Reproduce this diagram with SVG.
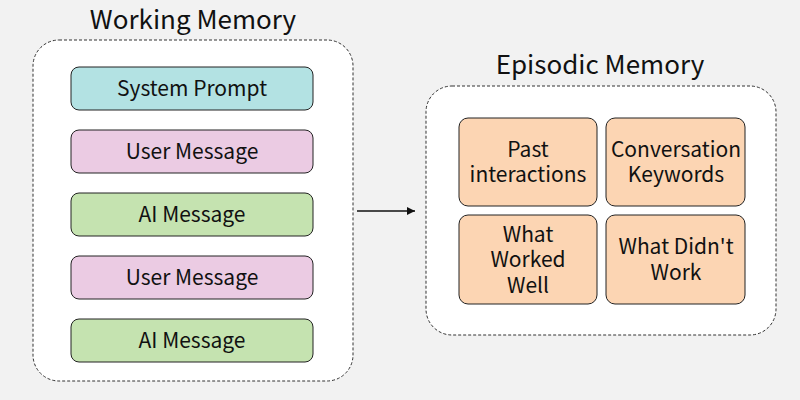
<svg xmlns="http://www.w3.org/2000/svg" width="800" height="400" viewBox="0 0 800 400">
<style>
text{font-family:"Noto Sans CJK SC","Noto Sans",sans-serif;fill:#111;text-anchor:middle}
.t{font-size:26px}
.b{font-size:21px}
.c{fill:#fff;stroke:#333;stroke-width:1;stroke-dasharray:3,2}
.n{stroke:#222;stroke-width:1}
.sys{fill:#b3e2e3}.usr{fill:#ebcbe3}.ai{fill:#c5e3b0}.ep{fill:#fcd5b3}
</style>
<defs><marker id="ah" markerWidth="10" markerHeight="10" refX="9" refY="5" orient="auto" markerUnits="userSpaceOnUse"><path d="M1,1 L9,5 L1,9 z" fill="#111"/></marker></defs>
<rect width="800" height="400" fill="#f2f2f2"/>
<g id="working">
<rect class="c" x="33" y="40" width="320" height="341" rx="26"/>
<text class="t" x="193" y="29">Working Memory</text>
</g>
<g id="n1"><rect class="n sys" x="71" y="67" width="242" height="43" rx="8"/><text class="b" x="192" y="96">System Prompt</text></g>
<g id="n2"><rect class="n usr" x="71" y="130" width="242" height="43" rx="8"/><text class="b" x="192" y="159">User Message</text></g>
<g id="n3"><rect class="n ai" x="71" y="193" width="242" height="43" rx="8"/><text class="b" x="192" y="222">AI Message</text></g>
<g id="n4"><rect class="n usr" x="71" y="256" width="242" height="43" rx="8"/><text class="b" x="192" y="285">User Message</text></g>
<g id="n5"><rect class="n ai" x="71" y="319" width="242" height="43" rx="8"/><text class="b" x="192" y="348">AI Message</text></g>
<g id="episodic">
<rect class="c" x="426" y="86" width="350" height="249" rx="26"/>
<text class="t" x="600" y="74">Episodic Memory</text>
</g>
<g id="e1"><rect class="n ep" x="459" y="118" width="138" height="88" rx="9"/><text class="b" x="528" y="157">Past</text><text class="b" x="528" y="182">interactions</text></g>
<g id="e2"><rect class="n ep" x="606" y="118" width="139" height="88" rx="9"/><text class="b" x="676" y="157">Conversation</text><text class="b" x="676" y="182">Keywords</text></g>
<g id="e3"><rect class="n ep" x="459" y="215" width="138" height="89" rx="9"/><text class="b" x="528" y="242">What</text><text class="b" x="528" y="267">Worked</text><text class="b" x="528" y="293">Well</text></g>
<g id="e4"><rect class="n ep" x="606" y="215" width="139" height="89" rx="9"/><text class="b" x="676" y="254">What Didn't</text><text class="b" x="676" y="280">Work</text></g>
<g id="connectors"><line x1="357" y1="211" x2="415" y2="211" stroke="#111" stroke-width="1.5" marker-end="url(#ah)"/></g>
</svg>
